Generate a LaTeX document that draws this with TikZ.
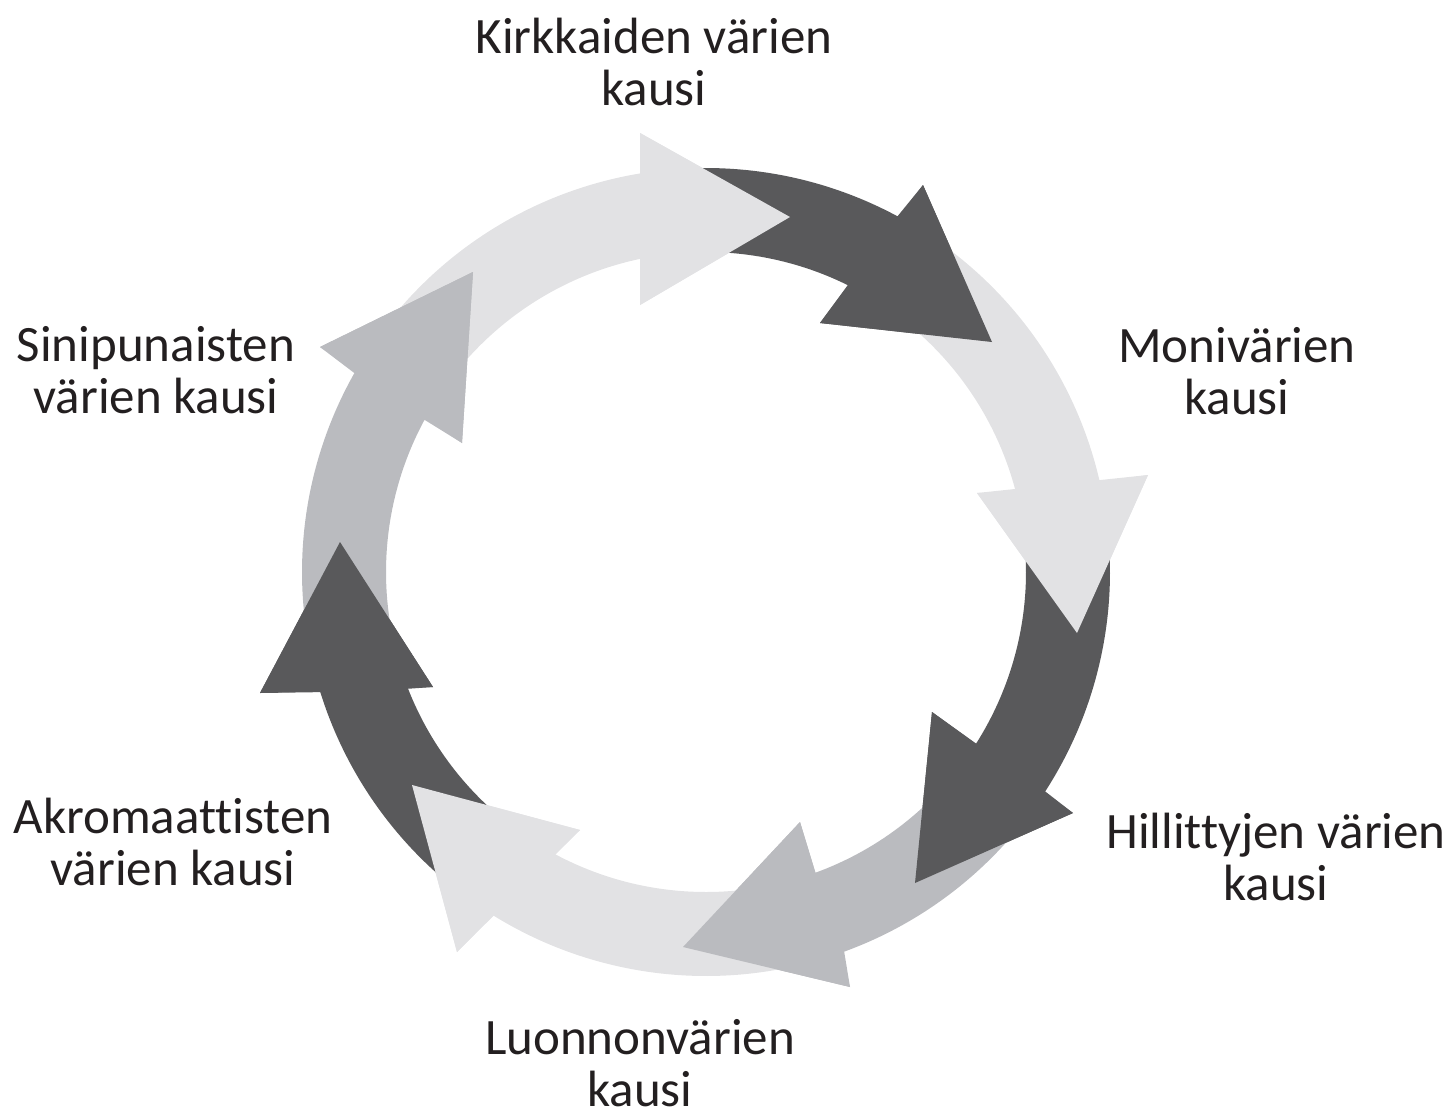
\documentclass[tikz,border=0pt]{standalone}
\usepackage{fontspec}
\setmainfont{Carlito}[Ligatures=CommonOff]
\usetikzlibrary{calc}
\definecolor{lightg}{RGB}{226,226,228}
\definecolor{midg}{RGB}{186,187,191}
\definecolor{darkg}{RGB}{89,89,91}
\definecolor{txt}{RGB}{35,31,32}
\def\Ro{404pt}
\def\Ri{320pt}
% #1 colour, #2 tail angle, #3 outer shoulder angle, #4 inner shoulder angle,
% #5 outer base corner, #6 tip, #7 inner base corner
\newcommand{\ringarrow}[7]{%
  \fill[#1] ($(C)+(#2:\Ro)$) arc[start angle=#2, end angle=#3, radius=\Ro]
    -- (#5) -- (#6) -- (#7) -- ($(C)+(#4:\Ri)$)
    arc[start angle=#4, end angle=#2, radius=\Ri] -- cycle;}
\newcommand{\ringhead}[4]{\fill[#1] (#2) -- (#3) -- (#4) -- cycle;}
\tikzset{lbl/.style={anchor=base, align=center, text=txt, inner sep=0pt,
  font=\fontsize{51}{52}\selectfont}}
\begin{document}
\begin{tikzpicture}[x=1pt, y=-1pt]
\useasboundingbox (0,0) rectangle (1449,1117);
\coordinate (C) at (706,572);
% head points
\coordinate (o1) at (640,133);  \coordinate (t1) at (790,217);  \coordinate (i1) at (640,305);
\coordinate (o2) at (923,185);  \coordinate (t2) at (992,342);  \coordinate (i2) at (820,323);
\coordinate (o3) at (1148,475); \coordinate (t3) at (1077,633); \coordinate (i3) at (977,493);
\coordinate (o4) at (1073,813); \coordinate (t4) at (915,883);  \coordinate (i4) at (932,712);
\coordinate (o5) at (850,987);  \coordinate (t5) at (683,947);  \coordinate (i5) at (800,822);
\coordinate (o6) at (457,952);  \coordinate (t6) at (412,785);  \coordinate (i6) at (580,830);
\coordinate (o7) at (260,693);  \coordinate (t7) at (340,542);  \coordinate (i7) at (433,687);
\coordinate (o8) at (320,347);  \coordinate (t8) at (473,272);  \coordinate (i8) at (462,443);
% bodies with heads
\ringarrow{lightg}{147.5}{99.4}{101.9}{o1}{t1}{i1}
\ringarrow{darkg}{96.4}{61.7}{63.7}{o2}{t2}{i2}
\ringarrow{lightg}{58.7}{12.9}{14.5}{o3}{t3}{i3}
\ringarrow{darkg}{9.9}{-32.9}{-32.5}{o4}{t4}{i4}
\ringarrow{midg}{-35.9}{-70}{-70}{o5}{t5}{i5}
\ringarrow{lightg}{-73}{-121.8}{-118.1}{o6}{t6}{i6}
\ringarrow{darkg}{-124.8}{-162.7}{-158.6}{o7}{t7}{i7}
\ringarrow{midg}{-165.7}{-209.5}{-208.4}{o8}{t8}{i8}
% heads on top of following tails
\ringhead{lightg}{o1}{t1}{i1}
\ringhead{darkg}{o2}{t2}{i2}
\ringhead{lightg}{o3}{t3}{i3}
\ringhead{darkg}{o4}{t4}{i4}
\ringhead{midg}{o5}{t5}{i5}
\ringhead{lightg}{o6}{t6}{i6}
\ringhead{darkg}{o7}{t7}{i7}
\ringhead{midg}{o8}{t8}{i8}
% labels (anchor = baseline of the last line)
\node[lbl] (kirkkaat) at (654,105) {Kirkkaiden värien\\kausi};
\node[lbl] (moni) at (1237,414) {Monivärien\\kausi};
\node[lbl] (hillityt) at (1276,900) {Hillittyjen värien\\kausi};
\node[lbl] (luonto) at (640,1106) {Luonnonvärien\\kausi};
\node[lbl] (akro) at (173,885) {Akromaattisten\\värien kausi};
\node[lbl] (sini) at (156,413) {Sinipunaisten\\värien kausi};
\end{tikzpicture}
\end{document}
